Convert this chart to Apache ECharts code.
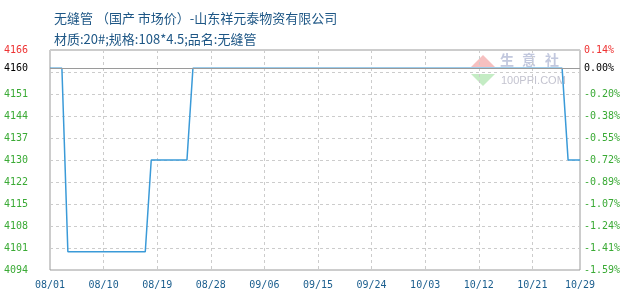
<!DOCTYPE html>
<html><head><meta charset="utf-8">
<script src="https://cdn.jsdelivr.net/npm/echarts@6/dist/echarts.min.js"></script>
<style>html,body{margin:0;padding:0;background:#fff}#c{width:630px;height:300px}</style>
</head><body><div id="c"></div>
<script>
const titleLine1 = '无缝管 （国产 市场价）-山东祥元泰物资有限公司';
const titleLine2 = '材质:20#;规格:108*4.5;品名:无缝管';

const dates = [
 '08/01','08/02','08/03','08/04','08/05','08/06','08/07','08/08','08/09','08/10',
 '08/11','08/12','08/13','08/14','08/15','08/16','08/17','08/18','08/19','08/20',
 '08/21','08/22','08/23','08/24','08/25','08/26','08/27','08/28','08/29','08/30','08/31',
 '09/01','09/02','09/03','09/04','09/05','09/06','09/07','09/08','09/09','09/10',
 '09/11','09/12','09/13','09/14','09/15','09/16','09/17','09/18','09/19','09/20',
 '09/21','09/22','09/23','09/24','09/25','09/26','09/27','09/28','09/29','09/30',
 '10/01','10/02','10/03','10/04','10/05','10/06','10/07','10/08','10/09','10/10',
 '10/11','10/12','10/13','10/14','10/15','10/16','10/17','10/18','10/19','10/20',
 '10/21','10/22','10/23','10/24','10/25','10/26','10/27','10/28','10/29'
];

const prices = [
 4160,4160,4160,4100,4100,4100,4100,4100,4100,4100,
 4100,4100,4100,4100,4100,4100,4100,4130,4130,4130,
 4130,4130,4130,4130,4160,4160,4160,4160,4160,4160,4160,
 4160,4160,4160,4160,4160,4160,4160,4160,4160,4160,
 4160,4160,4160,4160,4160,4160,4160,4160,4160,4160,
 4160,4160,4160,4160,4160,4160,4160,4160,4160,4160,
 4160,4160,4160,4160,4160,4160,4160,4160,4160,4160,
 4160,4160,4160,4160,4160,4160,4160,4160,4160,4160,
 4160,4160,4160,4160,4160,4160,4130,4130,4130
];

const yMin = 4094, yMax = 4166, ySteps = 10;
const basePrice = 4160;
const xLabelEvery = 9;

const yStep = (yMax - yMin) / ySteps;
const GREEN = '#3aaa35', RED = '#ee3333', BLACK = '#000';
const axisFont = 'DejaVu Sans Mono';
const tickIdx = v => Math.round(v / yStep);
const hiddenIdx = Math.floor((basePrice - yMin) / yStep); // tick replaced by base price label
const wmFont = 'bold 14px "Noto Sans CJK SC"';

const chart = echarts.init(document.getElementById('c'), null, {renderer: 'canvas'});
chart.setOption({
  animation: false,
  backgroundColor: '#fff',
  title: [
    {text: titleLine1, left: 49, top: 7, textStyle: {fontSize: 13, fontWeight: 'normal', color: '#1d5685', fontFamily: 'Noto Sans CJK SC'}},
    {text: titleLine2, left: 49, top: 28, textStyle: {fontSize: 13, fontWeight: 'normal', color: '#1d5685', fontFamily: 'Noto Sans CJK SC'}}
  ],
  grid: {left: 50, right: 50, top: 50, bottom: 30, show: true, borderColor: '#9a9a9a', borderWidth: 1, containLabel: false},
  graphic: [
    {type: 'polygon', z: 0, shape: {points: [[483, 55], [495, 67], [471, 67]]}, style: {fill: '#f6c0c0'}},
    {type: 'polygon', z: 0, shape: {points: [[471, 74], [495, 74], [483, 86]]}, style: {fill: '#c4ecc4'}},
    {type: 'text', z: 0, left: 500, top: 53, style: {text: '生', fill: '#c2c8de', font: wmFont}},
    {type: 'text', z: 0, left: 522, top: 53, style: {text: '意', fill: '#c2c8de', font: wmFont}},
    {type: 'text', z: 0, left: 545, top: 53, style: {text: '社', fill: '#c2c8de', font: wmFont}},
    {type: 'text', z: 0, left: 501, top: 75, style: {text: '100PPI.COM', fill: '#c4c4d0', font: '11px "Liberation Sans"'}}
  ],
  xAxis: {
    type: 'category', boundaryGap: false, data: dates,
    axisLine: {show: false}, axisTick: {show: false},
    axisLabel: {
      interval: (i) => i % xLabelEvery === 0 || i === dates.length - 1,
      color: '#1b5e8e', fontSize: 10, fontFamily: axisFont, margin: 10
    },
    splitLine: {show: true, interval: (i) => i % xLabelEvery === 0 && i !== 0, lineStyle: {color: '#cccccc', type: [3, 3], width: 1}}
  },
  yAxis: [
    {
      type: 'value', min: 0, max: yMax - yMin, interval: yStep, position: 'left',
      axisLine: {show: false}, axisTick: {show: false},
      splitLine: {show: true, lineStyle: {color: '#cccccc', type: [3, 3], width: 1}},
      axisLabel: {
        margin: 22, fontSize: 10, fontFamily: axisFont,
        formatter: (v) => { const k = tickIdx(v); return k === hiddenIdx ? '' : String(Math.floor(yMin + k * yStep + 1e-6)); },
        color: (v) => tickIdx(v) === ySteps ? RED : GREEN
      }
    },
    {
      type: 'value', min: 0, max: yMax - yMin, interval: yStep, position: 'right',
      axisLine: {show: false}, axisTick: {show: false}, splitLine: {show: false},
      axisLabel: {
        margin: 4, fontSize: 10, fontFamily: axisFont,
        formatter: (v) => { const k = tickIdx(v); if (k === hiddenIdx) return ''; return (((yMin + k * yStep) / basePrice - 1) * 100).toFixed(2) + '%'; },
        color: (v) => tickIdx(v) === ySteps ? RED : GREEN
      }
    }
  ],
  series: [
    {
      type: 'line', data: [], z: 1, silent: true,
      markLine: {
        silent: true, symbol: 'none', animation: false,
        lineStyle: {color: '#9a9a9a', type: 'solid', width: 1},
        data: [
          {yAxis: basePrice - yMin, label: {show: true, position: 'start', formatter: String(basePrice), color: BLACK, fontSize: 10, fontFamily: axisFont, distance: 22}},
          {yAxis: basePrice - yMin, label: {show: true, position: 'end', formatter: '0.00%', color: BLACK, fontSize: 10, fontFamily: axisFont, distance: 4}}
        ]
      }
    },
    {
      type: 'line', z: 3, data: prices.map(p => p - yMin), symbol: 'none', showSymbol: false,
      lineStyle: {color: '#3a9ad8', width: 1.5}, itemStyle: {color: '#3a9ad8'}
    }
  ]
});
</script></body></html>
